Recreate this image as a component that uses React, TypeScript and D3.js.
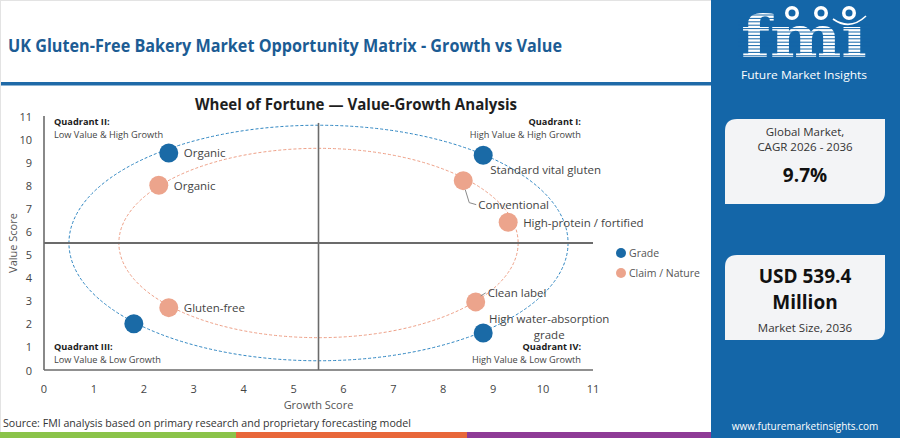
import * as d3 from 'd3';

// ---- data ----
const gradePoints = [
  { name: 'Organic', growth: 2.5, value: 9.4 },
  { name: 'Standard vital gluten', growth: 8.8, value: 9.3 },
  { name: '', growth: 1.8, value: 2.0 },
  { name: 'High water-absorption grade', growth: 8.8, value: 1.6 },
];

const claimPoints = [
  { name: 'Organic', growth: 2.3, value: 8.0 },
  { name: 'Conventional', growth: 8.4, value: 8.2 },
  { name: 'High-protein / fortified', growth: 9.3, value: 6.4 },
  { name: 'Gluten-free', growth: 2.5, value: 2.7 },
  { name: 'Clean label', growth: 8.65, value: 2.95 },
];

const axisTicks = [0, 1, 2, 3, 4, 5, 6, 7, 8, 9, 10, 11];
const midPoint = 5.5;

// ring radii in score units (x, y)
const rings = [
  { series: 'grade', rx: 5.0, ry: 5.1 },
  { series: 'claim', rx: 4.0, ry: 4.1 },
];

const quadrants = [
  { title: 'Quadrant II:', sub: 'Low Value & High Growth', side: 'left', top: true },
  { title: 'Quadrant I:', sub: 'High Value & High Growth', side: 'right', top: true },
  { title: 'Quadrant III:', sub: 'Low Value & Low Growth', side: 'left', top: false },
  { title: 'Quadrant IV:', sub: 'High Value & Low Growth', side: 'right', top: false },
];

const legendItems = [
  { series: 'grade', label: 'Grade' },
  { series: 'claim', label: 'Claim / Nature' },
];

// ---- styling ----
const W = 900;
const H = 438;
const FONT = "'Open Sans', 'Noto Sans', sans-serif";
const colors: Record<string, string> = { grade: '#1a6aa6', claim: '#eca48c' };
const ringColors: Record<string, string> = { grade: '#2f86c2', claim: '#ee9f86' };
const panelBlue = '#1466a8';

// label placement per point (offsets from the dot, px)
const labelPos: Record<string, { dx: number; dy: number; anchor?: string; lines?: string[]; leader?: number[][] }> = {
  'grade:Organic': { dx: 15, dy: 0 },
  'grade:Standard vital gluten': { dx: 7, dy: 14 },
  'grade:High water-absorption grade': { dx: 66, dy: -15, anchor: 'middle', lines: ['High water-absorption', 'grade'] },
  'claim:Organic': { dx: 15, dy: 0 },
  'claim:Conventional': { dx: 15, dy: 24, leader: [[2, 9], [6, 22], [13, 24]] },
  'claim:High-protein / fortified': { dx: 15, dy: 0 },
  'claim:Gluten-free': { dx: 15, dy: 0 },
  'claim:Clean label': { dx: 12, dy: -9, leader: [[5, -6], [10, -9]] },
};

const x = d3.scaleLinear().domain([0, 11]).range([44, 593]);
const y = d3.scaleLinear().domain([0, 11]).range([370, 116]);

function cardPath(x0: number, y0: number, w: number, h: number, r: number) {
  const p = d3.path();
  p.moveTo(x0 + r, y0);
  p.lineTo(x0 + w, y0);
  p.lineTo(x0 + w, y0 + h - r);
  p.quadraticCurveTo(x0 + w, y0 + h, x0 + w - r, y0 + h);
  p.lineTo(x0, y0 + h);
  p.lineTo(x0, y0 + r);
  p.quadraticCurveTo(x0, y0, x0 + r, y0);
  p.closePath();
  return p.toString();
}

const Points = ({ series, data }: { series: string; data: typeof gradePoints }) => (
  <g>
    {data.map((d, i) => {
      const cx = x(d.growth);
      const cy = y(d.value);
      const pos = labelPos[`${series}:${d.name}`];
      const leader = pos && pos.leader ? d3.line()(pos.leader.map(([a, b]) => [cx + a, cy + b] as [number, number])) : null;
      return (
        <g key={i}>
          <circle cx={cx} cy={cy} r={9.5} fill={colors[series]} />
          {leader && <path d={leader} fill="none" stroke="#8a8a8a" strokeWidth={1} />}
          {d.name && pos && (
            <text
              x={cx + pos.dx}
              y={cy + pos.dy}
              fontSize={11.5}
              fill="#444"
              textAnchor={pos.anchor || 'start'}
              dominantBaseline="central"
            >
              {pos.lines
                ? pos.lines.map((l, j) => (
                    <tspan key={j} x={cx + pos.dx} dy={j === 0 ? 0 : 16}>{l}</tspan>
                  ))
                : d.name}
            </text>
          )}
        </g>
      );
    })}
  </g>
);

const Logo = () => {
  const stripes = d3.range(15, 58, 3.4);
  return (
    <g>
      <text x={804} y={57} textAnchor="middle" fontFamily="'DejaVu Serif', serif" fontWeight="bold" fontSize={58} fill="#fff" textLength={126} lengthAdjust="spacingAndGlyphs">fmi</text>
      {stripes.map((s, i) => (
        <line key={i} x1={738} x2={870} y1={s} y2={s} stroke={panelBlue} strokeWidth={1} />
      ))}
      <rect x={784} y={0} width={86} height={24} fill={panelBlue} />
      {[792, 821, 849].map((cx, i) => (
        <g key={i}>
          <circle cx={cx} cy={13} r={7} fill="#fff" />
          <circle cx={cx} cy={13} r={3.5} fill={panelBlue} />
        </g>
      ))}
      <path d="M833,19 Q850,31 866,16" fill="none" stroke="#fff" strokeWidth={1.6} />
      <text x={804} y={74} textAnchor="middle" dominantBaseline="central" fontSize={11.5} fill="#fff" textLength={126} lengthAdjust="spacingAndGlyphs">Future Market Insights</text>
    </g>
  );
};

export default function App() {
  const cx0 = x(midPoint);
  const cy0 = y(midPoint);
  return (
    <div style={{ position: 'absolute', left: 0, top: 0 }}>
      <svg width={W} height={H} fontFamily={FONT} style={{ display: 'block' }}>
        <rect x={0} y={0} width={W} height={H} fill="#fff" />
        <rect x={0.5} y={0.5} width={711} height={H - 1} fill="none" stroke="#e3e3e3" />

        {/* header */}
        <text x={8} y={45} fontSize={17} fontWeight="bold" fill="#1c5c94" dominantBaseline="central" textLength={554} lengthAdjust="spacingAndGlyphs">
          UK Gluten-Free Bakery Market Opportunity Matrix - Growth vs Value
        </text>
        <rect x={1} y={82} width={710} height={3.5} fill="#1f6aa8" />

        <text x={356} y={104} fontSize={15.5} fontWeight="bold" fill="#1e1e1e" textAnchor="middle" dominantBaseline="central" textLength={322} lengthAdjust="spacingAndGlyphs">
          Wheel of Fortune — Value-Growth Analysis
        </text>

        {/* rings */}
        {rings.map((r) => (
          <ellipse
            key={r.series}
            cx={cx0}
            cy={cy0}
            rx={x(midPoint + r.rx) - cx0}
            ry={cy0 - y(midPoint + r.ry)}
            fill="none"
            stroke={ringColors[r.series]}
            strokeWidth={1}
            strokeDasharray="3,2"
          />
        ))}

        {/* quadrant dividers */}
        <line x1={x(0)} x2={x(11)} y1={cy0} y2={cy0} stroke="#6b6b6b" strokeWidth={2} />
        <line x1={cx0} x2={cx0} y1={y(0)} y2={y(10.7)} stroke="#6b6b6b" strokeWidth={1.6} />

        {/* axes */}
        <line x1={x(0)} x2={x(0)} y1={y(0)} y2={y(11)} stroke="#6b6b6b" strokeWidth={1.6} />
        <line x1={x(0)} x2={x(11)} y1={y(0)} y2={y(0)} stroke="#6b6b6b" strokeWidth={1.6} />
        {axisTicks.map((t) => (
          <g key={t}>
            <text x={x(t)} y={388} fontSize={11} fill="#444" textAnchor="middle" dominantBaseline="central">{t}</text>
            <text x={32} y={y(t)} fontSize={11} fill="#444" textAnchor="end" dominantBaseline="central">{t}</text>
          </g>
        ))}
        <text x={cx0} y={404} fontSize={11} fill="#555" textAnchor="middle" dominantBaseline="central">Growth Score</text>
        <text transform={`translate(12,${cy0}) rotate(-90)`} fontSize={11} fill="#555" textAnchor="middle" dominantBaseline="central">Value Score</text>

        {/* quadrant captions */}
        {quadrants.map((q) => {
          const tx = q.side === 'left' ? 54 : 581;
          const ty = q.top ? 121 : 346;
          const anchor = q.side === 'left' ? 'start' : 'end';
          return (
            <g key={q.title}>
              <text x={tx} y={ty} fontSize={9.2} fontWeight="bold" fill="#1a1a1a" textAnchor={anchor} dominantBaseline="central">{q.title}</text>
              <text x={tx} y={ty + 13} fontSize={9.2} fill="#444" textAnchor={anchor} dominantBaseline="central">{q.sub}</text>
            </g>
          );
        })}

        <Points series="claim" data={claimPoints} />
        <Points series="grade" data={gradePoints} />

        {/* legend */}
        {legendItems.map((l, i) => (
          <g key={l.series} transform={`translate(621,${253 + i * 20})`}>
            <circle r={5} fill={colors[l.series]} />
            <text x={8} fontSize={10.5} fill="#555" dominantBaseline="central">{l.label}</text>
          </g>
        ))}

        {/* source + footer strip */}
        <text x={3} y={422} fontSize={11} fill="#333" dominantBaseline="central" textLength={408} lengthAdjust="spacingAndGlyphs">
          Source: FMI analysis based on primary research and proprietary forecasting model
        </text>
        <rect x={0} y={432} width={236} height={6} fill="#8bc34a" />
        <rect x={236} y={432} width={231} height={6} fill="#e8673a" />
        <rect x={467} y={432} width={244} height={6} fill="#8e3b96" />

        {/* right panel */}
        <rect x={711} y={0} width={189} height={H} fill={panelBlue} />
        <Logo />

        <path d={cardPath(725, 119, 160, 85, 12)} fill="#f3f4f6" />
        <text x={805} y={131} fontSize={11.5} fill="#333" textAnchor="middle" dominantBaseline="central">Global Market,</text>
        <text x={805} y={146} fontSize={11.5} fill="#333" textAnchor="middle" dominantBaseline="central">CAGR 2026 - 2036</text>
        <text x={805} y={175} fontSize={19} fontWeight="bold" fill="#111" textAnchor="middle" dominantBaseline="central">9.7%</text>

        <path d={cardPath(725, 255, 160, 85, 12)} fill="#f3f4f6" />
        <text x={805} y={276} fontSize={19} fontWeight="bold" fill="#111" textAnchor="middle" dominantBaseline="central">USD 539.4</text>
        <text x={805} y={302} fontSize={19} fontWeight="bold" fill="#111" textAnchor="middle" dominantBaseline="central">Million</text>
        <text x={805} y={327} fontSize={11.5} fill="#333" textAnchor="middle" dominantBaseline="central">Market Size, 2036</text>

        <text x={805} y={426} fontSize={10} fill="#fff" textAnchor="middle" dominantBaseline="central">www.futuremarketinsights.com</text>
      </svg>
    </div>
  );
}
